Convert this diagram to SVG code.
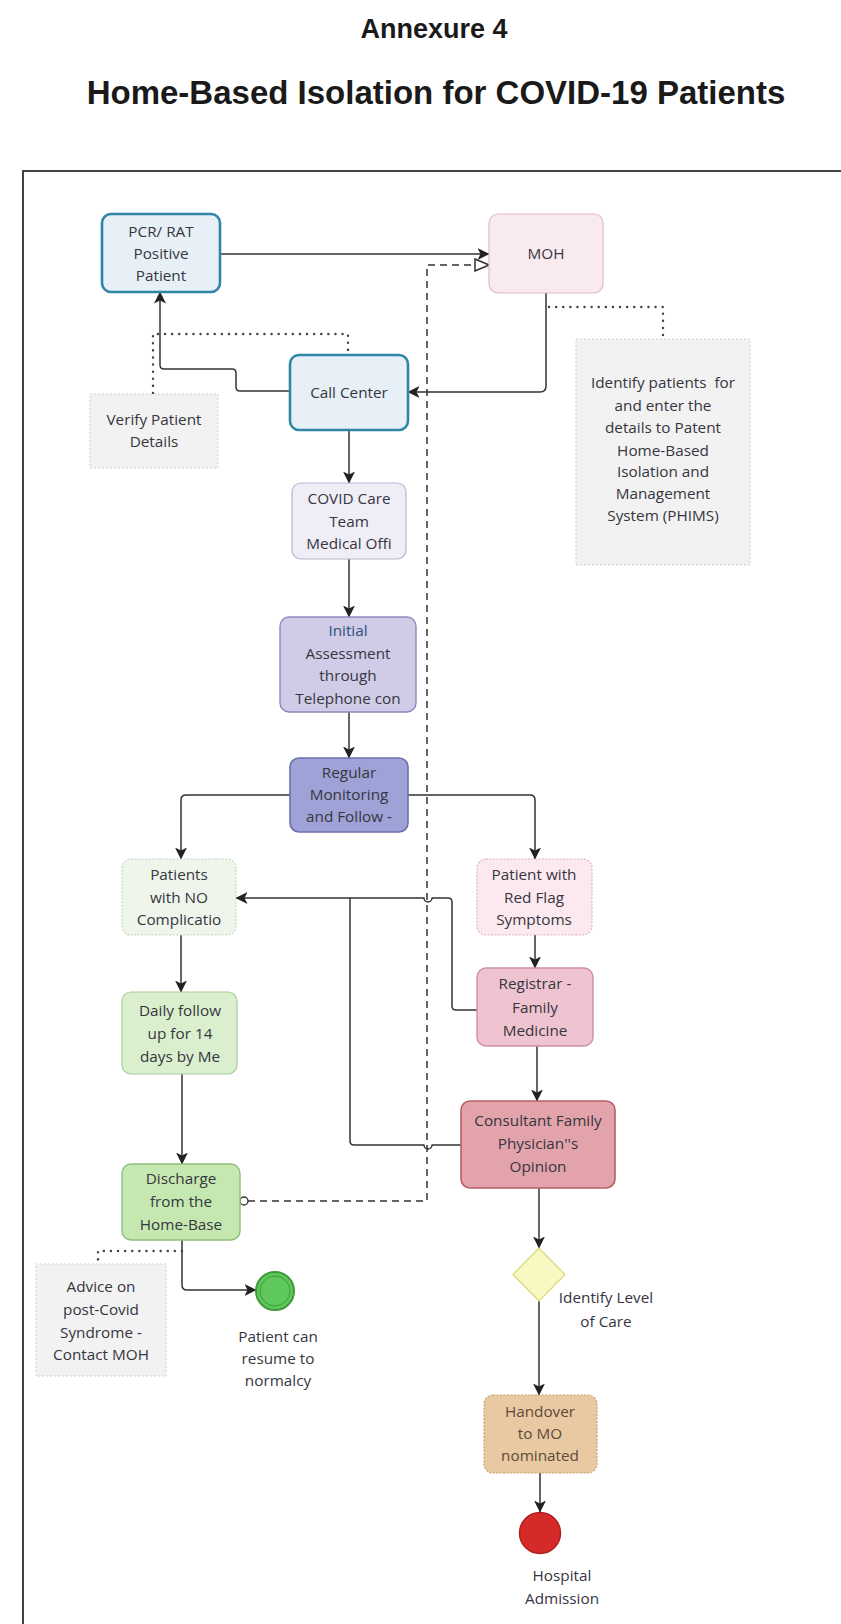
<svg xmlns="http://www.w3.org/2000/svg" width="841" height="1624" viewBox="0 0 841 1624">
<defs>
<style>
.t{font-family:"Open Sans","Noto Sans","DejaVu Sans",sans-serif;font-size:15.3px;fill:#363640;text-anchor:middle}
.title{font-family:"Liberation Sans",Arial,sans-serif;font-weight:bold;fill:#1a1a1a;text-anchor:middle}
.c{fill:none;stroke:#333;stroke-width:1.5;stroke-linejoin:round}
.dash{fill:none;stroke:#333;stroke-width:1.5;stroke-dasharray:7 5}
.dot{fill:none;stroke:#444;stroke-width:2.4;stroke-dasharray:0.1 7;stroke-linecap:round}
.note{fill:#f2f2f2;stroke:#cfcfcf;stroke-width:1;stroke-dasharray:2 2}
</style>
<marker id="ah" markerUnits="userSpaceOnUse" markerWidth="12" markerHeight="12" viewBox="0 0 12 12" refX="11.5" refY="6" orient="auto">
<path d="M0,0 L12,6 L0,12 L3,6 z" fill="#222"/>
</marker>
<marker id="hollow" markerUnits="userSpaceOnUse" markerWidth="16" markerHeight="14" viewBox="0 0 16 14" refX="15" refY="7" orient="auto">
<path d="M1,1 L15,7 L1,13 z" fill="#fff" stroke="#333" stroke-width="1.5"/>
</marker>
</defs>
<rect width="841" height="1624" fill="#ffffff"/>
<text class="title" x="434" y="38" font-size="27">Annexure 4</text>
<text class="title" x="436" y="104" font-size="33">Home-Based Isolation for COVID-19 Patients</text>
<path d="M23,1624 V171 H841" fill="none" stroke="#444" stroke-width="2"/>

<g id="connectors">
<path class="c" d="M220,254 H489" marker-end="url(#ah)"/>
<circle cx="244" cy="1201" r="4" fill="#fff" stroke="#333" stroke-width="1.3"/>
<path class="dash" d="M248,1201 H427 V265 H489" marker-end="url(#hollow)"/>
<path class="c" d="M546,293 V386 Q546,392 540,392 H408" marker-end="url(#ah)"/>
<path class="c" d="M290,391 H240 Q236,391 236,387 V373 Q236,369 232,369 H164 Q160,369 160,365 V292" marker-end="url(#ah)"/>
<path class="c" d="M349,430 V483" marker-end="url(#ah)"/>
<path class="c" d="M349,559 V617" marker-end="url(#ah)"/>
<path class="c" d="M349,712 V758" marker-end="url(#ah)"/>
<path class="c" d="M290,795 H186 Q181,795 181,800 V859" marker-end="url(#ah)"/>
<path class="c" d="M408,795 H530 Q535,795 535,800 V859" marker-end="url(#ah)"/>
<path class="c" d="M181,935 V992" marker-end="url(#ah)"/>
<path class="c" d="M182,1074 V1164" marker-end="url(#ah)"/>
<path class="c" d="M182,1240 V1285 Q182,1290 187,1290 H256" marker-end="url(#ah)"/>
<path class="c" d="M535,935 V968" marker-end="url(#ah)"/>
<path class="c" d="M537,1046 V1101" marker-end="url(#ah)"/>
<path class="c" d="M539,1188 V1248" marker-end="url(#ah)"/>
<path class="c" d="M539,1301 V1395" marker-end="url(#ah)"/>
<path class="c" d="M540,1473 V1512" marker-end="url(#ah)"/>
<path class="c" d="M477,1010 H456 Q452,1010 452,1006 V902 Q452,898 448,898 H432 A4,4 0 0 1 424,898 H236" marker-end="url(#ah)"/>
<path class="c" d="M461,1145 H432 A4,4 0 0 1 424,1145 H354 Q350,1145 350,1141 V898"/>
<path class="dot" d="M153,393 V334 H348 V355"/>
<path class="dot" d="M549,307 H663 V339"/>
<path class="dot" d="M182,1251 H98 V1262"/>
</g>

<g id="pcr">
<rect x="102" y="214" width="118" height="78" rx="9" fill="#e7f0f6" stroke="#2f86a6" stroke-width="2.6"/>
<text class="t" x="161" y="237">PCR/ RAT</text>
<text class="t" x="161" y="259">Positive</text>
<text class="t" x="161" y="281">Patient</text>
</g>
<g id="moh">
<rect x="489" y="214" width="114" height="79" rx="9" fill="#f9eaef" stroke="#dcbcc6" stroke-width="1.2"/>
<text class="t" x="546" y="259">MOH</text>
</g>
<g id="callcenter">
<rect x="290" y="355" width="118" height="75" rx="9" fill="#e7f0f6" stroke="#2f86a6" stroke-width="2.6"/>
<text class="t" x="349" y="398">Call Center</text>
</g>
<g id="verify">
<rect class="note" x="90" y="394" width="128" height="74"/>
<text class="t" x="154" y="425">Verify Patient</text>
<text class="t" x="154" y="447">Details</text>
</g>
<g id="phims">
<rect class="note" x="576" y="339" width="174" height="226"/>
<text class="t" x="663" y="388">Identify patients&#160; for</text>
<text class="t" x="663" y="411">and enter the</text>
<text class="t" x="663" y="433">details to Patent</text>
<text class="t" x="663" y="456">Home-Based</text>
<text class="t" x="663" y="477">Isolation and</text>
<text class="t" x="663" y="499">Management</text>
<text class="t" x="663" y="521">System (PHIMS)</text>
</g>
<g id="covidcare">
<rect x="292" y="483" width="114" height="76" rx="9" fill="#efedf6" stroke="#b9b5cf" stroke-width="1.2"/>
<text class="t" x="349" y="504">COVID Care</text>
<text class="t" x="349" y="527">Team</text>
<text class="t" x="349" y="549">Medical Offi</text>
</g>
<g id="initial">
<rect x="280" y="617" width="136" height="95" rx="9" fill="#d0cce8" stroke="#8e88bd" stroke-width="1.4"/>
<text class="t" x="348" y="636" style="fill:#2f4f78">Initial</text>
<text class="t" x="348" y="659">Assessment</text>
<text class="t" x="348" y="681">through</text>
<text class="t" x="348" y="704">Telephone con</text>
</g>
<g id="regular">
<rect x="290" y="758" width="118" height="74" rx="9" fill="#9ea2d6" stroke="#6b70ad" stroke-width="1.6"/>
<text class="t" x="349" y="778">Regular</text>
<text class="t" x="349" y="800">Monitoring</text>
<text class="t" x="349" y="822">and Follow -</text>
</g>
<g id="nocomp">
<rect x="122" y="859" width="114" height="76" rx="9" fill="#eef5ea" stroke="#c6d6be" stroke-width="1.2" stroke-dasharray="2 1.5"/>
<text class="t" x="179" y="880">Patients</text>
<text class="t" x="179" y="903">with NO</text>
<text class="t" x="179" y="925">Complicatio</text>
</g>
<g id="redflag">
<rect x="477" y="859" width="115" height="76" rx="9" fill="#fbe9ef" stroke="#dfb2c1" stroke-width="1.2" stroke-dasharray="2 1.5"/>
<text class="t" x="534" y="880">Patient with</text>
<text class="t" x="534" y="903">Red Flag</text>
<text class="t" x="534" y="925">Symptoms</text>
</g>
<g id="registrar">
<rect x="477" y="968" width="116" height="78" rx="9" fill="#efc4d0" stroke="#cf8ea1" stroke-width="1.4"/>
<text class="t" x="535" y="989">Registrar -</text>
<text class="t" x="535" y="1013">Family</text>
<text class="t" x="535" y="1036">Medicine</text>
</g>
<g id="consultant">
<rect x="461" y="1101" width="154" height="87" rx="9" fill="#e3a3ab" stroke="#b65f68" stroke-width="1.6"/>
<text class="t" x="538" y="1126">Consultant Family</text>
<text class="t" x="538" y="1149">Physician''s</text>
<text class="t" x="538" y="1172">Opinion</text>
</g>
<g id="daily">
<rect x="122" y="992" width="115" height="82" rx="9" fill="#daefcd" stroke="#a9cc99" stroke-width="1.2"/>
<text class="t" x="180" y="1016">Daily follow</text>
<text class="t" x="180" y="1039">up for 14</text>
<text class="t" x="180" y="1062">days by Me</text>
</g>
<g id="discharge">
<rect x="122" y="1164" width="118" height="76" rx="9" fill="#c5e8b1" stroke="#8cc07a" stroke-width="1.4"/>
<text class="t" x="181" y="1184">Discharge</text>
<text class="t" x="181" y="1207">from the</text>
<text class="t" x="181" y="1230">Home-Base</text>
</g>
<g id="advice">
<rect class="note" x="36" y="1264" width="130" height="112"/>
<text class="t" x="101" y="1292">Advice on</text>
<text class="t" x="101" y="1315">post-Covid</text>
<text class="t" x="101" y="1338">Syndrome -</text>
<text class="t" x="101" y="1360">Contact MOH</text>
</g>
<g id="endnormal">
<circle cx="275" cy="1291" r="19" fill="#5fc85b" stroke="#3e9a3c" stroke-width="2"/>
<circle cx="275" cy="1291" r="15" fill="none" stroke="#3e9a3c" stroke-width="1"/>
<text class="t" x="278" y="1342">Patient can</text>
<text class="t" x="278" y="1364">resume to</text>
<text class="t" x="278" y="1386">normalcy</text>
</g>
<g id="decision">
<path d="M539,1248 L565,1274.5 L539,1301 L513,1274.5 z" fill="#f8f8c2" stroke="#dcdc84" stroke-width="1.4"/>
<text class="t" x="606" y="1303">Identify Level</text>
<text class="t" x="606" y="1327">of Care</text>
</g>
<g id="handover">
<rect x="484" y="1395" width="113" height="78" rx="9" fill="#e8c9a1" stroke="#c7a070" stroke-width="1.2" stroke-dasharray="2 1.5"/>
<text class="t" x="540" y="1417" style="fill:#5e4a3c">Handover</text>
<text class="t" x="540" y="1439" style="fill:#5e4a3c">to MO</text>
<text class="t" x="540" y="1461" style="fill:#5e4a3c">nominated</text>
</g>
<g id="hospital">
<circle cx="540" cy="1533" r="20.5" fill="#d42a2a" stroke="#b31f1f" stroke-width="1.5"/>
<text class="t" x="562" y="1581">Hospital</text>
<text class="t" x="562" y="1604">Admission</text>
</g>
</svg>
